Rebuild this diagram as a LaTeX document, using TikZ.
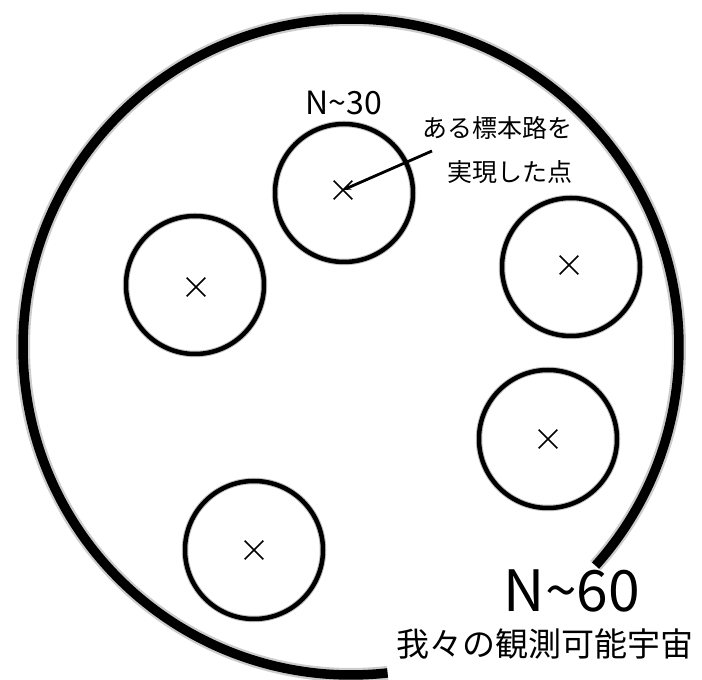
\documentclass[tikz,border=0pt]{standalone}
\usepackage{fontspec}
\setmainfont{Noto Sans CJK JP}
\usetikzlibrary{shapes.misc,arrows.meta}
\begin{document}
\begin{tikzpicture}[x=1pt,y=1pt,
  bigarc/.style={line width=9.5pt,black},
  bighalo/.style={line width=14pt,black,opacity=0.2},
  ring/.style={circle,draw,line width=4.5pt,minimum size=138pt,inner sep=0pt},
  ringhalo/.style={circle,draw,line width=6.5pt,draw opacity=0.25,minimum size=138pt,inner sep=0pt},
  xmark/.style={cross out,draw,line width=1.6pt,minimum size=17pt,inner sep=0pt},
  txt/.style={inner sep=0pt,text=black}]
\useasboundingbox (0,0) rectangle (702,680);
% observable universe
\draw[bighalo] (351,333) ++(-41.8:328) arc[start angle=-41.8,end angle=276.4,radius=328];
\draw[bigarc] (351,333) ++(-41.8:328) arc[start angle=-41.8,end angle=276.4,radius=328];
% small regions
\foreach \p in {(344,487),(195,395),(571,413),(548,241),(254,130)}{
  \node[ringhalo] at \p {};
}
\node[ring] (c1) at (344,487) {};
\node[ring] (c2) at (195,395) {};
\node[ring] (c3) at (571,413) {};
\node[ring] (c4) at (548,241) {};
\node[ring] (c5) at (254,130) {};
\node[xmark] (x1) at (343,490) {};
\node[xmark] (x2) at (196,393) {};
\node[xmark] (x3) at (569,415) {};
\node[xmark] (x4) at (548,241) {};
\node[xmark] (x5) at (254,130) {};
% labels
\node[txt,font=\fontsize{32}{32}\selectfont] (n30) at (344,577.5) {N\char`\~30};
\node[txt,font=\fontsize{25}{44}\selectfont,align=right] (lbl) at (497,530) {ある標本路を\\実現した点};
\node[txt,font=\fontsize{57}{57}\selectfont] (n60) at (572,89) {N\char`\~60};
\node[txt,font=\fontsize{33}{33}\selectfont] (obs) at (545,36.5) {我々の観測可能宇宙};
% arrow
\coordinate (tail) at (432,529);
\draw[line width=2.8pt,-{Stealth[length=8pt,width=6pt]}] (tail) -- (x1.center);
\end{tikzpicture}
\end{document}
